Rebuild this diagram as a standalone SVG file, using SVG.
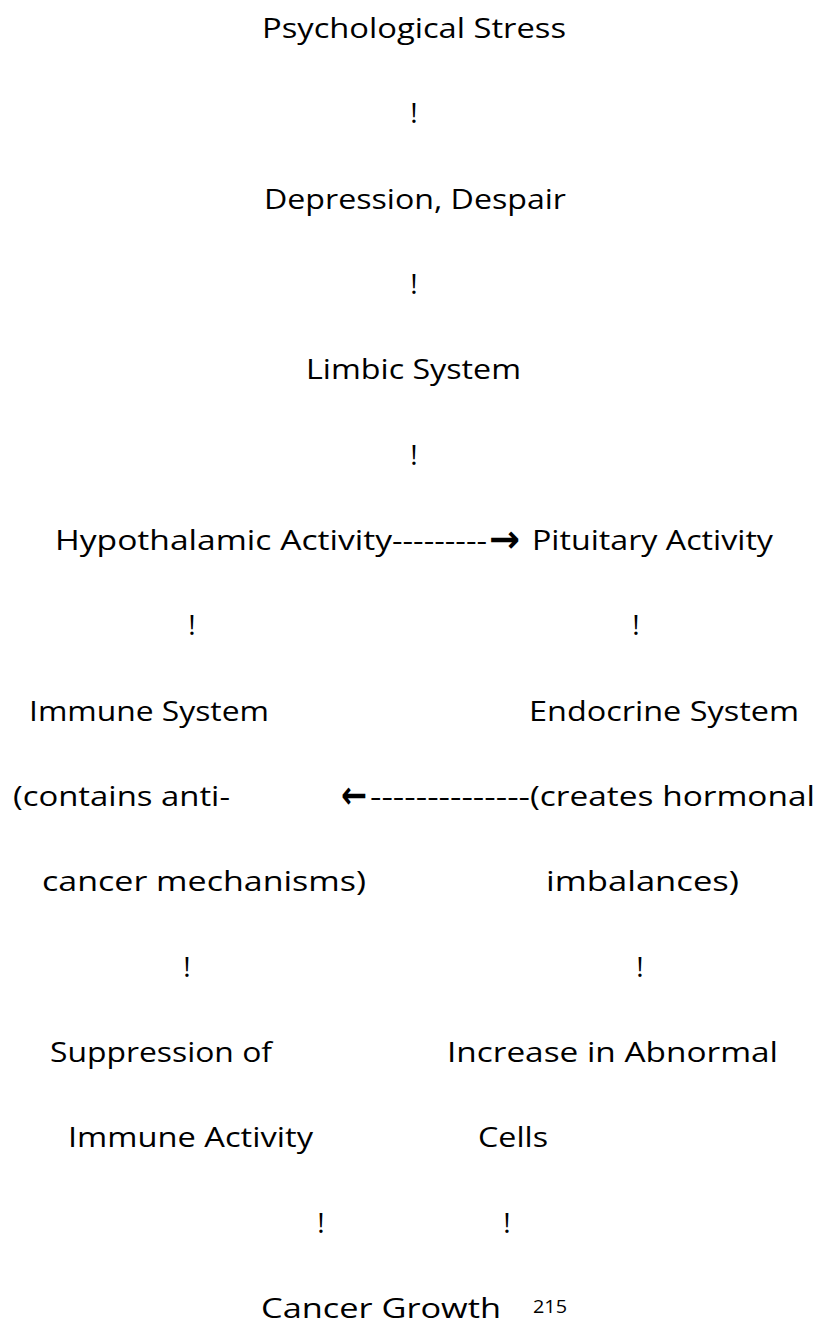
<svg xmlns="http://www.w3.org/2000/svg" width="819" height="1324" viewBox="0 0 819 1324">
<style>
text{font-family:"Open Sans","Liberation Sans",sans-serif;font-size:28px;fill:#000}
.c{text-anchor:middle}
.arr{font-family:"DejaVu Sans",sans-serif;font-weight:bold;font-size:38px}
.pg{font-size:19px}
</style>
<rect width="819" height="1324" fill="#fff"/>
<g id="n-psych"><text x="262" y="38" textLength="304" lengthAdjust="spacingAndGlyphs">Psychological Stress</text></g>
<g id="n-depression"><text x="264" y="208.7" textLength="302" lengthAdjust="spacingAndGlyphs">Depression, Despair</text></g>
<g id="n-limbic"><text x="306" y="379.3" textLength="215" lengthAdjust="spacingAndGlyphs">Limbic System</text></g>
<g id="n-hypothalamic"><text x="55" y="550" textLength="337" lengthAdjust="spacingAndGlyphs">Hypothalamic Activity</text></g>
<g id="n-pituitary"><text x="532" y="550" textLength="241" lengthAdjust="spacingAndGlyphs">Pituitary Activity</text></g>
<g id="n-immune">
<text x="29" y="720.6" textLength="240" lengthAdjust="spacingAndGlyphs">Immune System</text>
<text x="13" y="806" textLength="217" lengthAdjust="spacingAndGlyphs">(contains anti-</text>
<text x="42" y="891.3" textLength="324" lengthAdjust="spacingAndGlyphs">cancer mechanisms)</text>
</g>
<g id="n-endocrine">
<text x="529" y="720.6" textLength="270" lengthAdjust="spacingAndGlyphs">Endocrine System</text>
<text x="530" y="806" textLength="285" lengthAdjust="spacingAndGlyphs">(creates hormonal</text>
<text x="546" y="891.3" textLength="193" lengthAdjust="spacingAndGlyphs">imbalances)</text>
</g>
<g id="n-suppression">
<text x="50" y="1062" textLength="222" lengthAdjust="spacingAndGlyphs">Suppression of</text>
<text x="68" y="1147.3" textLength="245" lengthAdjust="spacingAndGlyphs">Immune Activity</text>
</g>
<g id="n-abnormal">
<text x="447" y="1062" textLength="331" lengthAdjust="spacingAndGlyphs">Increase in Abnormal</text>
<text x="478" y="1147.3" textLength="70" lengthAdjust="spacingAndGlyphs">Cells</text>
</g>
<g id="n-cancer"><text x="261" y="1318" textLength="240" lengthAdjust="spacingAndGlyphs">Cancer Growth</text></g>
<g id="page-number"><text class="pg" x="533" y="1313" textLength="34" lengthAdjust="spacingAndGlyphs">215</text></g>
<g id="connectors">
<text class="c" x="414" y="123.3">!</text>
<text class="c" x="414" y="294">!</text>
<text class="c" x="414" y="464.7">!</text>
<text class="c" x="192" y="635.3">!</text>
<text class="c" x="636" y="635.3">!</text>
<text class="c" x="187" y="976.7">!</text>
<text class="c" x="640" y="976.7">!</text>
<text class="c" x="321" y="1232.7">!</text>
<text class="c" x="507" y="1232.7">!</text>
<text x="392" y="550" textLength="95" lengthAdjust="spacingAndGlyphs">---------</text>
<text class="arr" x="489" y="552" textLength="31" lengthAdjust="spacingAndGlyphs">→</text>
<text class="arr" x="341" y="808" textLength="26" lengthAdjust="spacingAndGlyphs">←</text>
<text x="370" y="806" textLength="160" lengthAdjust="spacingAndGlyphs">--------------</text>
</g>
</svg>
